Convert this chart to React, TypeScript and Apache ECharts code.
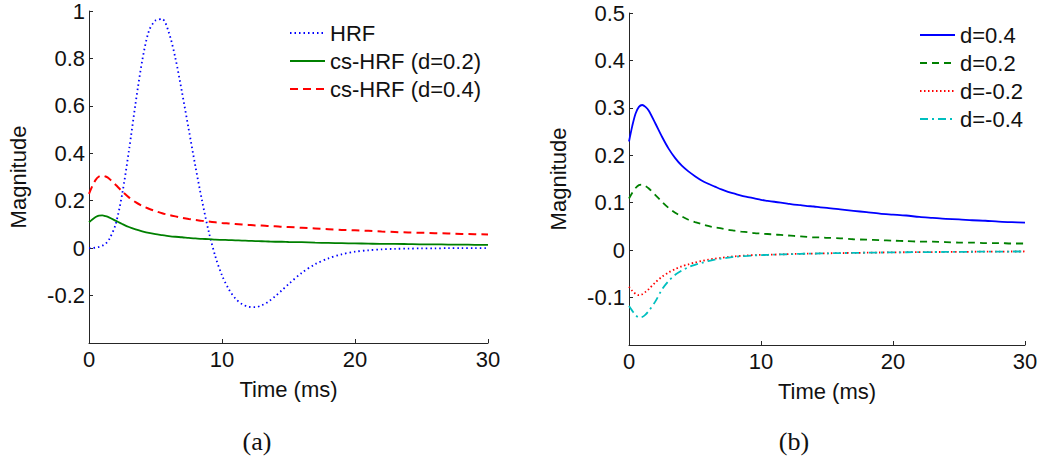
import React, { useEffect, useRef } from "react";
import * as echarts from "echarts";

// Time grid (ms)
const time: number[] = [
  0, 0.25, 0.5, 0.75, 1, 1.25, 1.5,
  2, 2.5, 3, 3.5, 4, 4.5, 5, 5.5, 6, 6.5, 7, 7.5, 8, 8.5, 9, 9.5, 10, 10.5, 11, 11.5, 12, 12.5, 13, 13.5, 14, 14.5, 15,
  16, 17, 18, 19, 20, 21, 22, 23, 24, 25, 26, 27, 28, 29, 30,
];

// Panel (a)
const hrf: number[] = [
  0, 0.0005, 0.002, 0.005, 0.01, 0.019, 0.035,
  0.1, 0.23, 0.41, 0.61, 0.79, 0.915, 0.96, 0.966, 0.91, 0.8, 0.655, 0.5, 0.345, 0.2, 0.07, -0.035, -0.115, -0.172, -0.212, -0.236, -0.247, -0.249, -0.241, -0.225, -0.203, -0.178, -0.152,
  -0.104, -0.068, -0.043, -0.026, -0.015, -0.009, -0.005, -0.003, -0.002, -0.001, -0.001, 0, 0, 0, 0,
];

const csD02: number[] = [
  0.109, 0.121, 0.131, 0.137, 0.138, 0.135, 0.13,
  0.116, 0.102, 0.089, 0.079, 0.071, 0.064, 0.059, 0.055, 0.051, 0.048, 0.046, 0.043, 0.041, 0.039, 0.038, 0.036, 0.035, 0.034, 0.033, 0.032, 0.031, 0.03, 0.029, 0.028, 0.027, 0.027, 0.026,
  0.025, 0.023, 0.022, 0.021, 0.02, 0.019, 0.018, 0.018, 0.017, 0.016, 0.016, 0.015, 0.015, 0.014, 0.014,
];

const csD04: number[] = [
  0.229, 0.262, 0.288, 0.302, 0.306, 0.302, 0.294,
  0.267, 0.239, 0.214, 0.194, 0.178, 0.166, 0.156, 0.147, 0.14, 0.134, 0.128, 0.123, 0.119, 0.115, 0.112, 0.109, 0.106, 0.104, 0.102, 0.1, 0.098, 0.096, 0.095, 0.093, 0.092, 0.09, 0.089,
  0.086, 0.083, 0.08, 0.077, 0.075, 0.073, 0.07, 0.068, 0.066, 0.065, 0.063, 0.062, 0.06, 0.059, 0.058,
];

// Panel (b)
const csDm02: number[] = [
  -0.077, -0.086, -0.092, -0.095, -0.093, -0.088, -0.082,
  -0.068, -0.056, -0.047, -0.04, -0.034, -0.03, -0.026, -0.023, -0.02, -0.018, -0.016, -0.0145, -0.013, -0.012, -0.011, -0.0105, -0.01, -0.0098, -0.0093, -0.0089, -0.0085, -0.0081, -0.0078, -0.0075, -0.0072, -0.0069, -0.0067,
  -0.0062, -0.0058, -0.0054, -0.005, -0.0047, -0.0044, -0.0042, -0.004, -0.0038, -0.0036, -0.0034, -0.0032, -0.0031, -0.0029, -0.0028,
];

const csDm04: number[] = [
  -0.118, -0.128, -0.137, -0.142, -0.141, -0.136, -0.128,
  -0.108, -0.083, -0.065, -0.052, -0.043, -0.036, -0.031, -0.027, -0.023, -0.02, -0.018, -0.016, -0.014, -0.013, -0.012, -0.011, -0.0105, -0.01, -0.0095, -0.009, -0.0086, -0.0082, -0.0078, -0.0075, -0.0072, -0.0069, -0.0067,
  -0.0062, -0.0058, -0.0054, -0.005, -0.0047, -0.0044, -0.0042, -0.004, -0.0038, -0.0036, -0.0034, -0.0032, -0.0031, -0.0029, -0.0028,
];

const legendA: string[] = ["HRF", "cs-HRF (d=0.2)", "cs-HRF (d=0.4)"];
const legendB: string[] = ["d=0.4", "d=0.2", "d=-0.2", "d=-0.4"];
const panelLabels: string[] = ["(a)", "(b)"];
const xName = "Time (ms)";
const yName = "Magnitude";

const FONT = "'Liberation Sans', Arial, Helvetica, sans-serif";
const TXT = "#111";
const AX = "#262626";

const pairs = (ys: number[]) => time.map((t, i) => [t, ys[i]]);

function makeX(gridIndex: number) {
  return {
    type: "value",
    gridIndex,
    min: 0,
    max: 30,
    interval: 10,
    name: xName,
    nameLocation: "middle",
    nameGap: 35,
    nameTextStyle: { fontFamily: FONT, fontSize: 22, color: TXT },
    axisLine: { show: true, onZero: false, lineStyle: { color: AX, width: 1 } },
    axisTick: { show: true, inside: true, length: 4, lineStyle: { color: AX } },
    axisLabel: { fontFamily: FONT, fontSize: 22, color: TXT, margin: 5 },
    splitLine: { show: false },
  };
}

function makeY(gridIndex: number, min: number, max: number, interval: number) {
  return {
    type: "value",
    gridIndex,
    min,
    max,
    interval,
    name: yName,
    nameLocation: "middle",
    nameGap: 60,
    nameTextStyle: { fontFamily: FONT, fontSize: 22, color: TXT },
    axisLine: { show: true, onZero: false, lineStyle: { color: AX, width: 1 } },
    axisTick: { show: true, inside: true, length: 4, lineStyle: { color: AX } },
    axisLabel: {
      fontFamily: FONT,
      fontSize: 22,
      color: TXT,
      margin: 4,
      formatter: (v: number) => (Math.abs(v - min) < 1e-9 ? "" : String(parseFloat(v.toFixed(2)))),
    },
    splitLine: { show: false },
  };
}

function line(name: string, ys: number[], idx: number, color: string, type: any, width = 1.8) {
  return {
    type: "line",
    name,
    xAxisIndex: idx,
    yAxisIndex: idx,
    data: pairs(ys),
    symbol: "none",
    showSymbol: false,
    smooth: 0.3,
    lineStyle: { color, width, type },
    itemStyle: { color },
  };
}

export default function App() {
  const ref = useRef<HTMLDivElement>(null);
  useEffect(() => {
    if (!ref.current) return;
    const chart = echarts.init(ref.current, undefined, { renderer: "svg" });
    const legendText = { fontFamily: FONT, fontSize: 22, color: TXT };
    const legendCommon = {
      orient: "vertical",
      itemWidth: 35,
      itemHeight: 14,
      itemGap: 6,
      selectedMode: false,
      textStyle: legendText,
      itemStyle: { opacity: 0 },
    };
    chart.setOption({
      animation: false,
      backgroundColor: "#fff",
      grid: [
        { left: 89, top: 11, width: 399, height: 332 },
        { left: 629, top: 13, width: 396, height: 332 },
      ],
      xAxis: [makeX(0), makeX(1)],
      yAxis: [makeY(0, -0.4, 1, 0.2), makeY(1, -0.2, 0.5, 0.1)],
      legend: [
        { ...legendCommon, data: legendA, left: 284, top: 17 },
        { ...legendCommon, data: legendB, left: 914, top: 19 },
      ],
      series: [
        line(legendA[0], hrf, 0, "#0000ff", [1.5, 3]),
        line(legendA[1], csD02, 0, "#008000", "solid"),
        line(legendA[2], csD04, 0, "#ff0000", [8, 5], 2),
        line(legendB[0], csD04, 1, "#0000ff", "solid"),
        line(legendB[1], csD02, 1, "#008000", [7, 5]),
        line(legendB[2], csDm02, 1, "#ff0000", [1.5, 2.5]),
        line(legendB[3], csDm04, 1, "#00bfbf", [8, 4, 2, 4]),
      ],
      graphic: [
        {
          type: "text",
          x: 257,
          y: 441,
          style: {
            text: panelLabels[0],
            font: "26px 'Liberation Serif', 'Times New Roman', serif",
            fill: "#111",
            textAlign: "center",
            textVerticalAlign: "middle",
          },
        },
        {
          type: "text",
          x: 794,
          y: 441,
          style: {
            text: panelLabels[1],
            font: "26px 'Liberation Serif', 'Times New Roman', serif",
            fill: "#111",
            textAlign: "center",
            textVerticalAlign: "middle",
          },
        },
      ],
    });
    return () => chart.dispose();
  }, []);
  return (
    <div
      ref={ref}
      style={{ position: "absolute", left: 0, top: 0, width: 1046, height: 459, background: "#fff" }}
    />
  );
}
